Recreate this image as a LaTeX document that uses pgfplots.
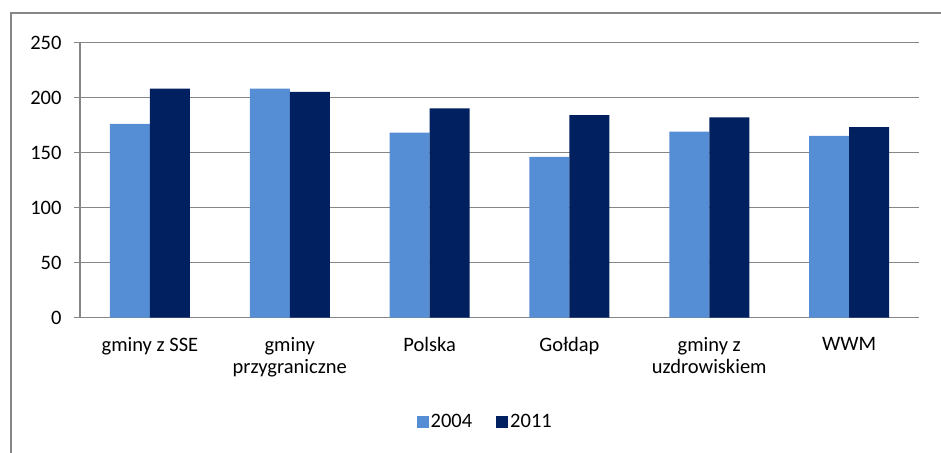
\documentclass[border=0pt]{standalone}
\usepackage{pgfplots}
\pgfplotsset{compat=1.18}
\usepackage{fontspec}
\setmainfont{Carlito}
\definecolor{lightb}{RGB}{85,142,213}
\definecolor{darkb}{RGB}{0,32,96}
\definecolor{gridg}{RGB}{134,134,134}
\begin{document}
\begin{tikzpicture}
\clip (-80pt,-134.5pt) rectangle (861pt,317.5pt);
\draw[gridg, line width=2pt] (-69pt,-300pt) rectangle (1000pt,304.5pt);
\begin{axis}[
  at={(0pt,0pt)}, anchor=south west,
  scale only axis, width=839pt, height=275pt,
  xmin=-0.5, xmax=5.5, ymin=0, ymax=250,
  ybar=0pt, bar width=40pt,
  axis lines*=left,
  axis line style={gridg, line width=1.5pt},
  ymajorgrids, grid style={gridg, line width=1.5pt},
  ytick={0,50,...,250},
  xtick={0,...,5},
  xticklabels={gminy z SSE, {gminy\\przygraniczne}, Polska, Gołdap, {gminy z\\uzdrowiskiem}, WWM},
  x tick label style={align=center, font=\fontsize{20.5}{22.5}\selectfont, yshift=-10pt},
  y tick label style={font=\fontsize{20.5}{24.5}\selectfont, xshift=-9pt},
  /pgf/number format/assume math mode=true,
  tick align=outside,
  major tick length=6pt,
  tick style={gridg, line width=1.5pt},
  x tick style={draw=none},
  extra x ticks={-0.5,0.5,...,5.5},
  extra x tick labels={},
  extra x tick style={grid=none, major tick length=6pt, tick style={gridg, line width=1.5pt}},
  legend style={at={(0.483,-0.38)}, anchor=center, draw=none, font=\fontsize{20.5}{24.5}\selectfont,
    legend columns=2, /tikz/every even column/.append style={column sep=22pt}},
  legend image code/.code={\fill[#1] (0pt,-6pt) rectangle (12pt,6pt);},
]
\addplot[fill=lightb, draw=none] coordinates {(0,176) (1,208) (2,168) (3,146) (4,169) (5,165)};
\addplot[fill=darkb, draw=none] coordinates {(0,208) (1,205) (2,190) (3,184) (4,182) (5,173)};
\legend{2004,2011}
\end{axis}
\end{tikzpicture}
\end{document}
